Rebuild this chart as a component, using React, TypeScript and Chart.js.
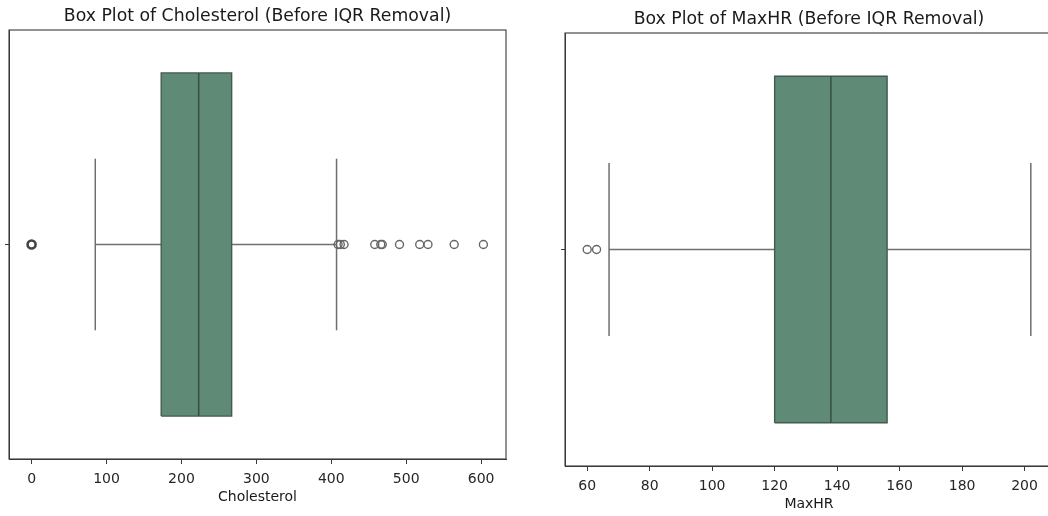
import React, { useEffect, useRef } from "react";
import { Chart, registerables } from "chart.js";

Chart.register(...registerables);

// ---------- Data ----------
const cholTitle = "Box Plot of Cholesterol (Before IQR Removal)";
const cholLabel = "Cholesterol";
// [lower whisker, Q1, median, Q3, upper whisker]
const cholStats = [85, 173, 223, 267, 407];
const cholOutliers = [0, 409, 412, 417, 458, 466, 468, 491, 518, 529, 564, 603];
const cholTicks = [0, 100, 200, 300, 400, 500, 600];
const cholRange = [-30.15, 633.15];

const hrTitle = "Box Plot of MaxHR (Before IQR Removal)";
const hrLabel = "MaxHR";
const hrStats = [67, 120, 138, 156, 202];
const hrOutliers = [60, 63];
const hrTicks = [60, 80, 100, 120, 140, 160, 180, 200];
const hrRange = [52.9, 209.1];

// ---------- Styles ----------
const BOX_FILL = "#5f8a76";
const BOX_EDGE = "#44594f";
const MEDIAN = "#3b5146";
const WHISKER = "#6f6f6f";
const FLIER = "#666666";
const SPINE = "#3a3a3a";
const FONT = "'DejaVu Sans', sans-serif";

const framePlugin = {
  id: "frame",
  afterDraw(chart: any) {
    const { ctx, chartArea } = chart;
    ctx.save();
    ctx.strokeStyle = SPINE;
    ctx.lineWidth = 1.1;
    ctx.strokeRect(chartArea.left, chartArea.top, chartArea.right - chartArea.left, chartArea.bottom - chartArea.top);
    ctx.restore();
  },
};

function line(points: { x: number; y: number }[], color: string, width: number, extra: any = {}) {
  return {
    data: points,
    showLine: true,
    borderColor: color,
    borderWidth: width,
    pointRadius: 0,
    pointHoverRadius: 0,
    fill: false,
    tension: 0,
    ...extra,
  };
}

type Props = {
  title: string;
  label: string;
  stats: number[];
  outliers: number[];
  ticks: number[];
  range: number[];
  left: number;
  top: number;
  width: number;
  height: number;
};

function BoxChart(p: Props) {
  const ref = useRef<HTMLCanvasElement | null>(null);
  useEffect(() => {
    if (!ref.current) return;
    const [wlo, q1, med, q3, whi] = p.stats;
    const half = 0.4;
    const cap = 0.2;
    const chart = new Chart(ref.current, {
      type: "scatter",
      data: {
        datasets: [
          {
            data: p.outliers.map((v) => ({ x: v, y: 0 })),
            showLine: false,
            pointRadius: 4,
            pointHoverRadius: 4,
            pointStyle: "circle",
            backgroundColor: "rgba(0,0,0,0)",
            borderColor: (c: any) => (c.raw && c.raw.x === 0 ? "#444444" : FLIER),
            borderWidth: (c: any) => (c.raw && c.raw.x === 0 ? 2.6 : 1.4),
          } as any,
          line([{ x: med, y: -half }, { x: med, y: half }], MEDIAN, 1.6),
          line(
            [
              { x: q1, y: -half },
              { x: q3, y: -half },
              { x: q3, y: half },
              { x: q1, y: half },
              { x: q1, y: -half },
            ],
            BOX_EDGE,
            1.4
          ),
          line([{ x: wlo, y: 0 }, { x: q1, y: 0 }], WHISKER, 1.5),
          line([{ x: q3, y: 0 }, { x: whi, y: 0 }], WHISKER, 1.5),
          line([{ x: wlo, y: -cap }, { x: wlo, y: cap }], WHISKER, 1.5),
          line([{ x: whi, y: -cap }, { x: whi, y: cap }], WHISKER, 1.5),
          line([{ x: q1, y: half }, { x: q3, y: half }], "rgba(0,0,0,0)", 0, {
            fill: { value: -half },
            backgroundColor: BOX_FILL,
          }),
        ],
      },
      options: {
        responsive: false,
        animation: false,
        events: [],
        layout: { padding: { left: 0, right: 14, top: 0, bottom: 10.6 } },
        plugins: {
          legend: { display: false },
          tooltip: { enabled: false },
          title: {
            display: true,
            text: p.title,
            fullSize: false,
            color: "#1a1a1a",
            font: { family: FONT, size: 17.3, weight: "normal" },
            padding: { top: 6, bottom: 3.24 },
          } as any,
        },
        scales: {
          x: {
            type: "linear",
            min: p.range[0],
            max: p.range[1],
            afterBuildTicks: (s: any) => {
              s.ticks = p.ticks.map((v) => ({ value: v }));
            },
            afterFit: (s: any) => {
              s.height = 46.4;
            },
            grid: { drawOnChartArea: false, drawTicks: true, tickLength: 5, color: SPINE, lineWidth: 1 },
            border: { display: true, color: SPINE, width: 1 },
            ticks: {
              color: "#262626",
              font: { family: FONT, size: 14 },
              padding: 7,
              maxRotation: 0,
              autoSkip: false,
            },
            title: {
              display: true,
              text: p.label,
              color: "#1a1a1a",
              font: { family: FONT, size: 14 },
              padding: { top: 4, bottom: 0 },
            },
          },
          y: {
            type: "linear",
            min: -0.5,
            max: 0.5,
            afterBuildTicks: (s: any) => {
              s.ticks = [{ value: 0 }];
            },
            afterFit: (s: any) => {
              s.width = 9;
            },
            grid: { drawOnChartArea: false, drawTicks: true, tickLength: 4, color: SPINE, lineWidth: 1 },
            border: { display: true, color: SPINE, width: 1 },
            ticks: { display: false },
          },
        },
      } as any,
      plugins: [framePlugin],
    });
    return () => chart.destroy();
  }, []);
  return (
    <canvas
      ref={ref}
      width={p.width}
      height={p.height}
      style={{ position: "absolute", left: p.left, top: p.top, width: p.width, height: p.height }}
    />
  );
}

export default function App() {
  return (
    <div
      style={{
        position: "fixed",
        left: 0,
        top: 0,
        width: 1048,
        height: 516,
        overflow: "hidden",
        background: "#ffffff",
      }}
    >
      <BoxChart
        title={cholTitle}
        label={cholLabel}
        stats={cholStats}
        outliers={cholOutliers}
        ticks={cholTicks}
        range={cholRange}
        left={0}
        top={0}
        width={520}
        height={516}
      />
      <BoxChart
        title={hrTitle}
        label={hrLabel}
        stats={hrStats}
        outliers={hrOutliers}
        ticks={hrTicks}
        range={hrRange}
        left={556}
        top={3}
        width={511}
        height={520}
      />
    </div>
  );
}
